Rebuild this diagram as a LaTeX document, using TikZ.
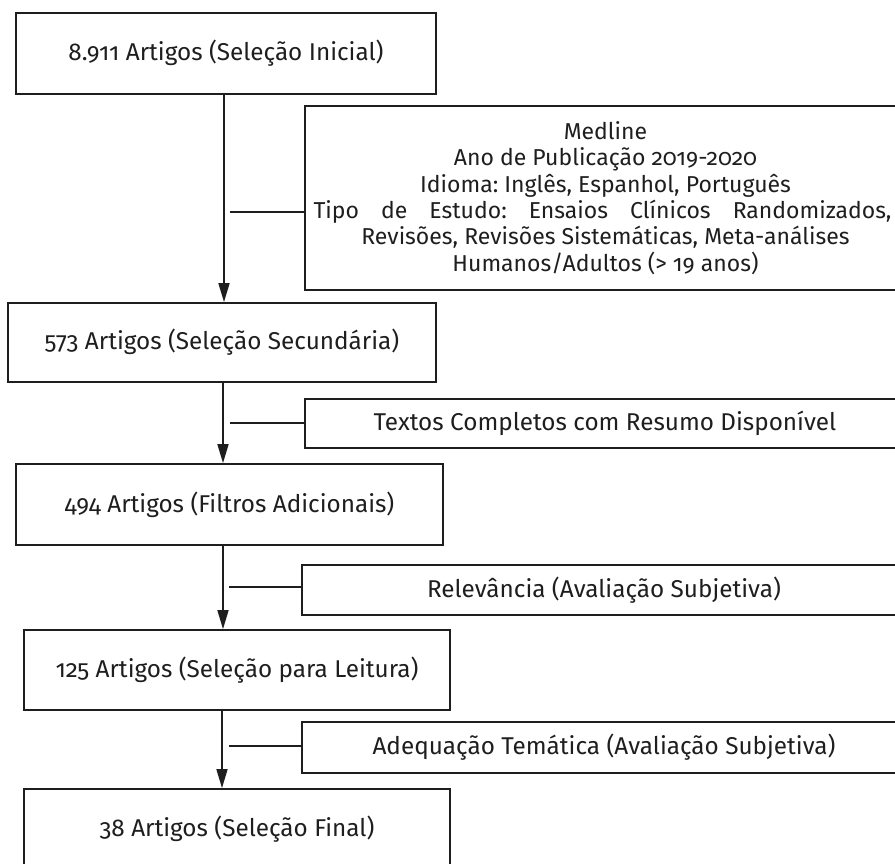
\documentclass[tikz,border=0pt]{standalone}
\usepackage{fontspec}
\setmainfont{Fira Sans}[Numbers=OldStyle]
\usetikzlibrary{arrows.meta}
\definecolor{ink}{HTML}{1E1E1E}
\frenchspacing
\begin{document}
\begin{tikzpicture}[x=1pt,y=-1pt,
  every node/.style={font=\fontsize{24.3}{26.6}\selectfont, text=ink},
  box/.style={draw=ink, line width=1.8pt, rectangle, inner sep=0pt, align=center},
  small/.style={font=\fontsize{23}{26.4}\selectfont},
  arr/.style={draw=ink, line width=1.7pt, -{Triangle[width=11pt,length=19pt]}},
  link/.style={draw=ink, line width=1.7pt}]
\useasboundingbox (0,0) rectangle (895,863);
% left column boxes
\node[box, minimum width=420pt, minimum height=81pt] (b1) at (226,53.5) {8.911 Artigos (Seleção Inicial)};
\node[box, minimum width=428pt, minimum height=79pt] (b2) at (222,342.5) {573 Artigos (Seleção Secundária)};
\node[box, minimum width=427pt, minimum height=81pt] (b3) at (229.5,504.5) {494 Artigos (Filtros Adicionais)};
\node[box, minimum width=426pt, minimum height=80pt] (b4) at (237,670) {125 Artigos (Seleção para Leitura)};
\node[box, minimum width=426pt, minimum height=80pt] (b5) at (237,829) {38 Artigos (Seleção Final)};
% right column boxes
\node[box, small, minimum width=601pt, minimum height=184pt] (f1) at (605.5,198) {Medline\\Ano de Publicação 2019-2020\\Idioma: Inglês, Espanhol, Português\\\hspace*{-6pt}\makebox[578pt][s]{Tipo de Estudo: Ensaios Clínicos Randomizados,}\\Revisões, Revisões Sistemáticas, Meta-análises\\Humanos/Adultos (> 19 anos)};
\node[box, minimum width=600pt, minimum height=49pt] (f2) at (605,423.5) {Textos Completos com Resumo Disponível};
\node[box, minimum width=604pt, minimum height=50pt] (f3) at (604,590) {Relevância (Avaliação Subjetiva)};
\node[box, minimum width=604pt, minimum height=51pt] (f4) at (604,747.5) {Adequação Temática (Avaliação Subjetiva)};
% arrow columns
\coordinate (a1) at (224,0);
\coordinate (a2) at (223,0);
\coordinate (a3) at (223,0);
\coordinate (a4) at (222,0);
\draw[arr] (b1.south -| a1) -- (b2.north -| a1);
\draw[arr] (b2.south -| a2) -- (b3.north -| a2);
\draw[arr] (b3.south -| a3) -- (b4.north -| a3);
\draw[arr] (b4.south -| a4) -- (b5.north -| a4);
% side connectors
\coordinate (c1) at (230,212);
\coordinate (c2) at (230,423);
\coordinate (c3) at (229,587);
\coordinate (c4) at (229,746);
\draw[link] (c1) -- (c1 -| f1.west);
\draw[link] (c2) -- (c2 -| f2.west);
\draw[link] (c3) -- (c3 -| f3.west);
\draw[link] (c4) -- (c4 -| f4.west);
\end{tikzpicture}
\end{document}
